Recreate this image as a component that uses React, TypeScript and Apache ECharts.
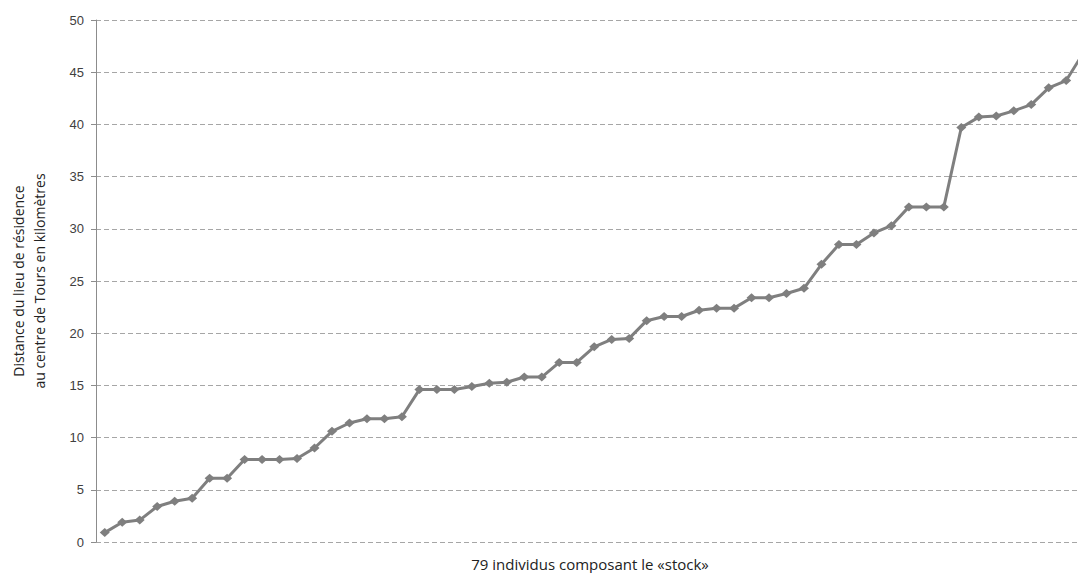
import React, { useEffect, useRef } from "react";
import * as echarts from "echarts";

const TOTAL_INDIVIDUALS = 79;
const categories: string[] = Array.from({ length: TOTAL_INDIVIDUALS }, (_, i) => String(i + 1));

const distances: number[] = [
  0.9, 1.9, 2.1, 3.4, 3.9, 4.2, 6.1, 6.1, 7.9, 7.9,
  7.9, 8.0, 9.0, 10.6, 11.4, 11.8, 11.8, 12.0, 14.6, 14.6,
  14.6, 14.9, 15.2, 15.3, 15.8, 15.8, 17.2, 17.2, 18.7, 19.4,
  19.5, 21.2, 21.6, 21.6, 22.2, 22.4, 22.4, 23.4, 23.4, 23.8,
  24.3, 26.6, 28.5, 28.5, 29.6, 30.3, 32.1, 32.1, 32.1, 39.7,
  40.7, 40.8, 41.3, 41.9, 43.5, 44.2, 46.9,
];

const yName = "Distance du lieu de résidence\nau centre de Tours en kilomètres";
const xName = "79 individus composant le «stock»";

const VIEW_W = 1078;
const VIEW_H = 573;
const GRID_LEFT = 91;
const BAND = 17.54;
const CHART_W = Math.round(GRID_LEFT + BAND * TOTAL_INDIVIDUALS);

export default function App() {
  const ref = useRef<HTMLDivElement>(null);
  useEffect(() => {
    if (!ref.current) return;
    const chart = echarts.init(ref.current, undefined, { renderer: "svg" });
    chart.setOption({
      animation: false,
      backgroundColor: "#ffffff",
      grid: { left: GRID_LEFT, top: 20, bottom: 31, right: 0, containLabel: false },
      xAxis: {
        type: "category",
        data: categories,
        boundaryGap: true,
        axisLine: { show: false },
        axisTick: { show: false },
        axisLabel: { show: false },
        splitLine: { show: false },
      },
      yAxis: {
        type: "value",
        min: 0,
        max: 50,
        interval: 5,
        name: yName,
        nameLocation: "middle",
        nameGap: 46,
        nameTextStyle: { fontFamily: "Open Sans", fontSize: 14, lineHeight: 21, color: "#222" },
        axisLine: { show: true, lineStyle: { color: "#8c8c8c", width: 1 } },
        axisTick: { show: true, length: 5, lineStyle: { color: "#8c8c8c" } },
        axisLabel: { margin: 12, fontFamily: "Liberation Sans", fontSize: 13, color: "#404040" },
        splitLine: { show: true, lineStyle: { color: "#a6a6a6", type: [5, 3], width: 1 } },
      },
      graphic: [
        {
          type: "text",
          x: 590,
          y: 564,
          style: {
            text: xName,
            fontFamily: "Open Sans",
            fontSize: 15,
            fill: "#222",
            textAlign: "center",
            textVerticalAlign: "middle",
          },
        },
      ],
      series: [
        {
          type: "line",
          data: distances,
          symbol: "diamond",
          symbolSize: [10, 9],
          showSymbol: true,
          showAllSymbol: true,
          clip: false,
          lineStyle: { color: "#7f7f7f", width: 3 },
          itemStyle: { color: "#7f7f7f" },
        },
      ],
    });
    return () => chart.dispose();
  }, []);
  return (
    <div style={{ position: "fixed", left: 0, top: 0, width: VIEW_W, height: VIEW_H, overflow: "hidden", background: "#fff" }}>
      <div ref={ref} style={{ width: CHART_W, height: VIEW_H }} />
    </div>
  );
}
